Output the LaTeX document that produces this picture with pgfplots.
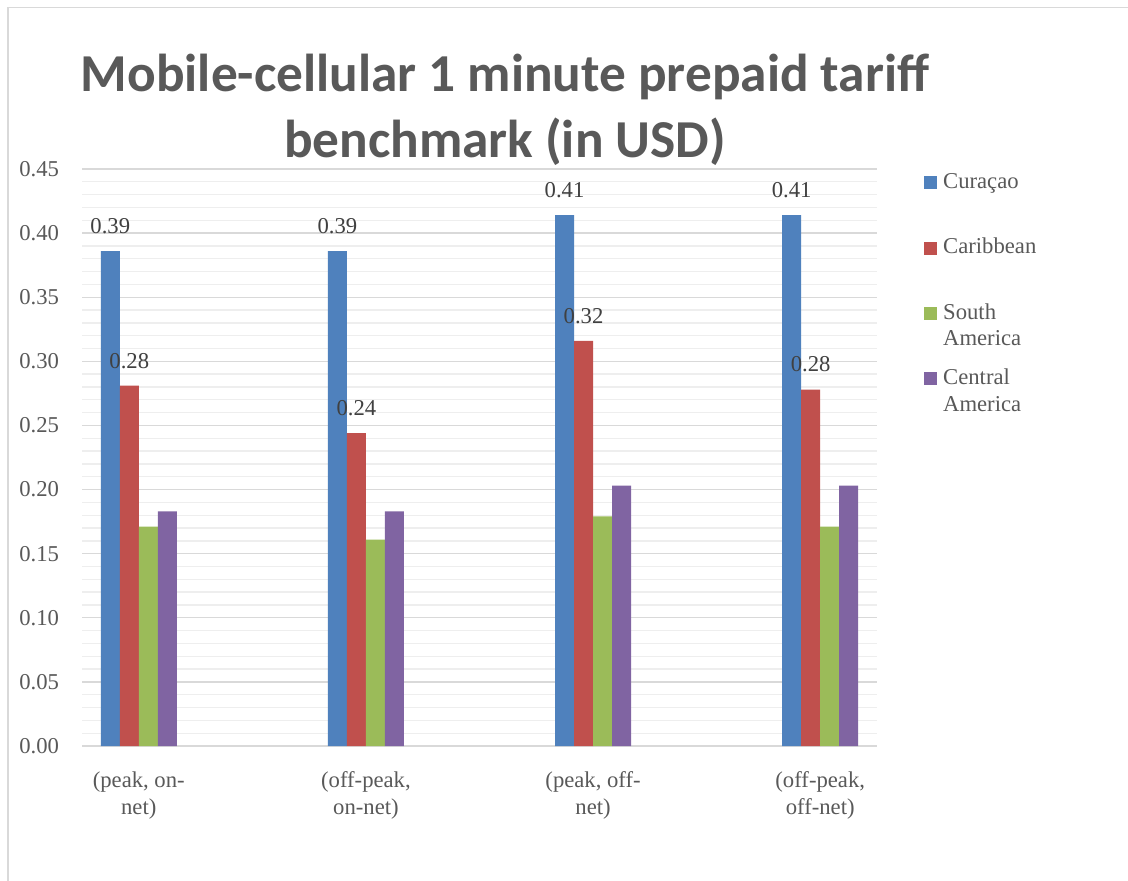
\documentclass[border=0pt]{standalone}
\usepackage{pgfplots}
\pgfplotsset{compat=1.18}
\usepackage{fontspec}
\setmainfont{Liberation Serif}
\newfontfamily\titlefont{Carlito}

\definecolor{curacao}{HTML}{4F81BD}
\definecolor{carib}{HTML}{C0504D}
\definecolor{southam}{HTML}{9BBB59}
\definecolor{centam}{HTML}{8064A2}
\definecolor{txtgray}{HTML}{595959}
\definecolor{lblgray}{HTML}{404040}
\definecolor{majgrid}{HTML}{D9D9D9}
\definecolor{mingrid}{HTML}{EEEEEE}

\begin{document}
\begin{tikzpicture}
% pixel grid of the reference: 1px = 0.75pt, y downwards
\begin{scope}[x=0.75pt,y=-0.75pt]
\useasboundingbox (0,0) rectangle (1128,881);
\fill[white] (0,0) rectangle (1128,881);
\coordinate (axpos) at (82,746);
% chart frame (cropped at right and bottom)
\draw[majgrid, line width=1.1pt] (8,881) -- (8,7.5) -- (1128,7.5);
% title
\node[font=\titlefont\bfseries\fontsize{40}{48}\selectfont, text=txtgray, anchor=base]
    at (505,92) {Mobile-cellular 1 minute prepaid tariff};
\node[font=\titlefont\bfseries\fontsize{40}{48}\selectfont, text=txtgray, anchor=base]
    at (505,157) {benchmark (in USD)};
\end{scope}

\begin{axis}[
    at={(axpos)}, anchor=south west,
    scale only axis,
    width=596.25pt, height=432.75pt,
    ybar=0pt, bar width=14.25pt,
    xmin=-0.25, xmax=3.25,
    ymin=0, ymax=0.45,
    xtick={0,1,2,3},
    xticklabels={{(peak, on-\\net)}, {(off-peak,\\on-net)}, {(peak, off-\\net)}, {(off-peak,\\off-net)}},
    ytick={0,0.05,...,0.45},
    minor y tick num=4,
    ymajorgrids, yminorgrids,
    major grid style={majgrid, line width=1pt},
    minor grid style={mingrid, line width=1pt},
    axis line style={draw=none},
    major tick length=0pt, minor tick length=0pt,
    /pgf/number format/assume math mode=true,
    yticklabel={\pgfmathprintnumber[fixed,fixed zerofill,precision=2]{\tick}},
    y tick label style={font=\fontsize{17}{20}\selectfont, text=txtgray, inner sep=0pt, anchor=east, xshift=-17pt},
    x tick label style={font=\fontsize{17}{20}\selectfont, text=txtgray, align=center, inner sep=0pt, anchor=north, yshift=-19pt},
    legend style={
        at={(1.059,0.993)}, anchor=north west,
        draw=none, fill=none, inner sep=0pt,
        row sep=34.5pt, column sep=4.5pt,
        font=\fontsize{17}{20}\selectfont, text=txtgray,
        nodes={inner sep=0pt, text height=11.5pt, text depth=3pt},
    },
    legend cell align=left,
    legend image code/.code={\fill[#1, draw=none] (0pt,-4.875pt) rectangle (9.75pt,4.875pt);},
    clip=false,
]
\addplot[fill=curacao, draw=none,
    nodes near coords={\pgfmathprintnumber[fixed,fixed zerofill,precision=2]{\pgfplotspointmeta}},
    nodes near coords style={font=\fontsize{17}{20}\selectfont, text=lblgray, anchor=south, inner sep=0pt, yshift=12.75pt}]
    coordinates {(0,0.386) (1,0.386) (2,0.414) (3,0.414)};
\addlegendentry{Curaçao}
\addplot[fill=carib, draw=none,
    nodes near coords={\pgfmathprintnumber[fixed,fixed zerofill,precision=2]{\pgfplotspointmeta}},
    nodes near coords style={font=\fontsize{17}{20}\selectfont, text=lblgray, anchor=south, inner sep=0pt, yshift=12.75pt}]
    coordinates {(0,0.281) (1,0.244) (2,0.316) (3,0.278)};
\addlegendentry{Caribbean}
\addplot[fill=southam, draw=none]
    coordinates {(0,0.171) (1,0.161) (2,0.179) (3,0.171)};
\addlegendentry{\raisebox{0pt}[\height][0pt]{\begin{tabular}[t]{@{}l@{}}South\\America\end{tabular}}}
\addplot[fill=centam, draw=none]
    coordinates {(0,0.183) (1,0.183) (2,0.203) (3,0.203)};
\addlegendentry{\raisebox{0pt}[\height][0pt]{\begin{tabular}[t]{@{}l@{}}Central\\America\end{tabular}}}
\end{axis}
\end{tikzpicture}
\end{document}
